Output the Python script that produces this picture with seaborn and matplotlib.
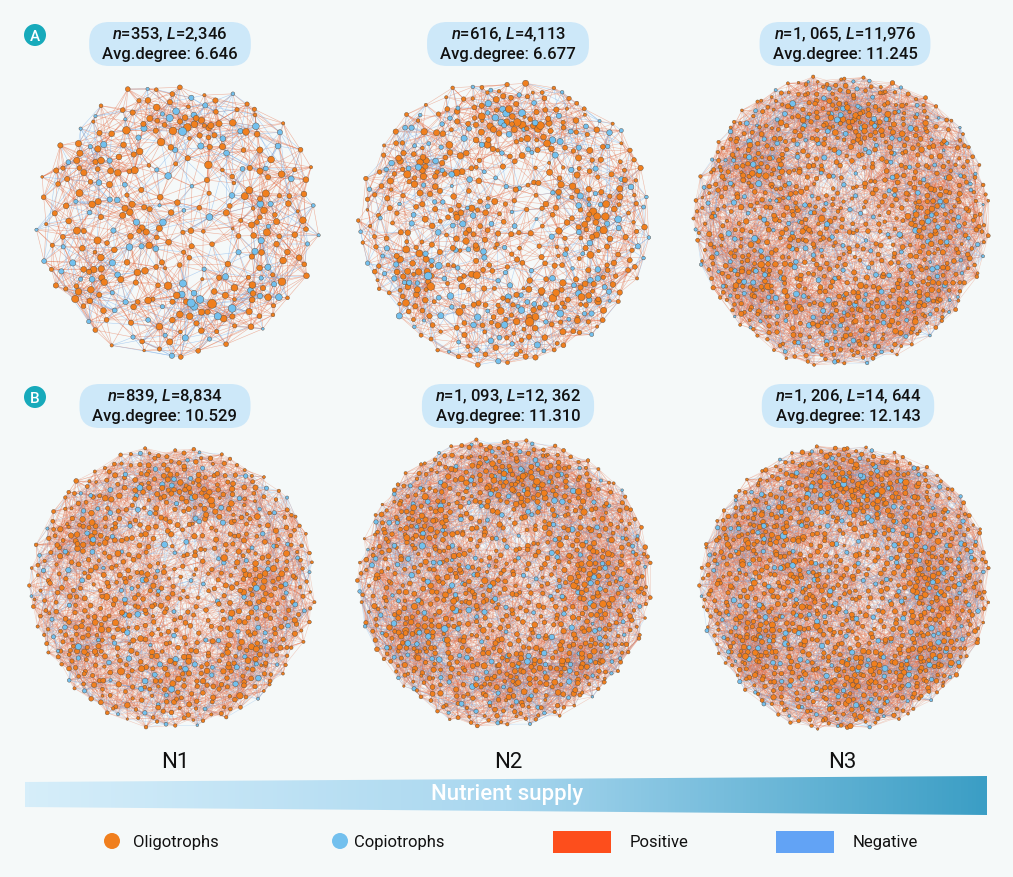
import numpy as np
import pandas as pd
import seaborn as sns
import matplotlib.pyplot as plt
from matplotlib.collections import LineCollection
from matplotlib.colors import LinearSegmentedColormap
from matplotlib.patches import FancyBboxPatch, Circle, Rectangle, Polygon

sns.set_theme(style='white')
plt.rcParams['font.family'] = ['Roboto', 'DejaVu Sans']
plt.rcParams['mathtext.fontset'] = 'custom'
plt.rcParams['mathtext.rm'] = 'Roboto:medium'
plt.rcParams['mathtext.it'] = 'Roboto:italic:medium'

# network statistics, row A then row B, each N1..N3
panel_rows = ['A', 'A', 'A', 'B', 'B', 'B']
treatments = ['N1', 'N2', 'N3']
node_counts = [353, 616, 1065, 839, 1093, 1206]
link_counts = [2346, 4113, 11976, 8834, 12362, 14644]
n_labels = ['353', '616', '1, 065', '839', '1, 093', '1, 206']
link_labels = ['2,346', '4,113', '11,976', '8,834', '12, 362', '14, 644']
avg_degree = ['6.646', '6.677', '11.245', '10.529', '11.310', '12.143']
# share of copiotroph nodes and of negative links, estimated by eye
copio_share = [0.26, 0.27, 0.2, 0.15, 0.17, 0.17]
neg_share = [0.55, 0.55, 0.5, 0.6, 0.6, 0.6]

# drawing layout (pixel space of the 1013x878 canvas)
centers = [(178, 220), (505, 222), (842, 220), (173, 587), (505, 582), (845, 587)]
radii = [150, 152, 153, 148, 152, 150]
node_sizes = [(4, 42), (4, 38), (3, 24), (3, 26), (3, 24), (3, 24)]
edge_alpha = [0.5, 0.45, 0.32, 0.32, 0.32, 0.3]
module_pull = [0.5, 0.4, 0.3, 0.3, 0.3, 0.3]

OLIGO = '#f07f1e'
COPIO = '#72c0ee'
POS = '#e46a42'
NEG = '#6aa6e8'
BG = '#f5f9f9'

modules = np.array([[-0.55, -0.35], [0.05, 0.6], [0.55, -0.05], [-0.2, 0.05],
                    [0.25, -0.6], [-0.6, 0.4], [0.55, 0.5], [-0.1, -0.7]])


def halton(n, base):
    out = np.zeros(n)
    for i in range(n):
        f, r, k = 1.0, 0.0, i + 1
        while k > 0:
            f /= base
            r += f * (k % base)
            k //= base
        out[i] = r
    return out


def layout(n, pull):
    # low-discrepancy points in a disc, pulled towards a few modules
    r = np.sqrt(halton(n, 2))
    t = 2 * np.pi * halton(n, 3)
    p = np.c_[r * np.cos(t), r * np.sin(t)]
    shift = np.zeros_like(p)
    for m in modules:
        d = m - p
        w = np.exp(-(d ** 2).sum(1) / (2 * 0.24 ** 2))
        shift += pull * w[:, None] * d
    return p + shift


def build_edges(p, L):
    n = len(p)
    d = ((p[:, None, :] - p[None, :, :]) ** 2).sum(-1)
    order = np.argsort(d, axis=1)
    m = int(np.ceil(1.4 * L / n)) + 2
    edges = set()
    while True:
        ranks = sorted(set(np.geomspace(1, 0.45 * n, m).astype(int)))
        for rk in ranks:
            for i in range(n):
                j = order[i, rk]
                edges.add((min(i, j), max(i, j)))
                if len(edges) >= L:
                    return np.array(sorted(edges))
        m += 4


fig = plt.figure(figsize=(10.13, 8.78), dpi=100)
fig.patch.set_facecolor(BG)
ax = fig.add_axes([0, 0, 1, 1])
ax.set_facecolor(BG)

for idx in range(6):
    n, L = node_counts[idx], link_counts[idx]
    cx, cy = centers[idx]
    R = radii[idx]
    p = layout(n, module_pull[idx])
    e = build_edges(p, L)
    copio = halton(n, 5) < copio_share[idx]
    deg = np.bincount(e.ravel(), minlength=n)
    xy = np.c_[cx + R * p[:, 0], cy + R * p[:, 1]]

    neg = (copio[e[:, 0]] != copio[e[:, 1]]) & (halton(len(e), 7) < neg_share[idx])
    segs = np.stack([xy[e[:, 0]], xy[e[:, 1]]], axis=1)
    ax.add_collection(LineCollection(segs[~neg], colors=POS, linewidths=0.4,
                                     alpha=edge_alpha[idx], zorder=1))
    ax.add_collection(LineCollection(segs[neg], colors=NEG, linewidths=0.4,
                                     alpha=edge_alpha[idx], zorder=1))

    nodes = pd.DataFrame({'x': xy[:, 0], 'y': xy[:, 1], 'degree': deg.astype(float) ** 2,
                          'group': np.where(copio, 'Copiotrophs', 'Oligotrophs')})
    sns.scatterplot(data=nodes, x='x', y='y', hue='group', size='degree',
                    sizes=node_sizes[idx],
                    palette={'Oligotrophs': OLIGO, 'Copiotrophs': COPIO},
                    edgecolor='#5a4a3a', linewidth=0.3, legend=False, ax=ax, zorder=3)

    # label pill
    ly = 35 if panel_rows[idx] == 'A' else 397
    lx = cx - 8 if idx in (0, 3) else cx + 3
    t1 = ax.text(lx, ly, f'$n$={n_labels[idx]}, $L$={link_labels[idx]}', ha='center', va='center',
                 fontsize=12, fontweight='medium', color='#111111', zorder=6)
    t2 = ax.text(lx, ly + 20, f'Avg.degree: {avg_degree[idx]}', ha='center', va='center',
                 fontsize=12, fontweight='medium', color='#111111', zorder=6)
    fig.canvas.draw()
    rend = fig.canvas.get_renderer()
    w = max(t1.get_window_extent(rend).width, t2.get_window_extent(rend).width)
    pw = w + 26
    ax.add_patch(FancyBboxPatch((lx - pw / 2, ly - 12), pw, 44,
                                boxstyle='round,pad=0,rounding_size=20',
                                fc='#cde8f9', ec='none', zorder=5))

# panel letters
for letter, y in [('A', 36), ('B', 398)]:
    ax.add_patch(Circle((35, y), 11, fc='#17aabb', ec='none', zorder=5))
    ax.text(35, y + 1, letter, ha='center', va='center', color='white', fontsize=11,
            fontweight='medium', zorder=6)

for i, t in enumerate(treatments):
    ax.text([175, 508, 842][i], 763, t, ha='center', va='center', fontsize=16, color='#111111')

# nutrient supply wedge
cmap = LinearSegmentedColormap.from_list('nut', ['#d6eefa', '#a9d7ef', '#3b9ec5'])
grad = np.linspace(0, 1, 256)[None, :]
im = ax.imshow(grad, extent=[25, 987, 816, 777], aspect='auto', cmap=cmap, zorder=2)
wedge = Polygon([(25, 783), (987, 777), (987, 816), (25, 808)], closed=True,
                fc='none', ec='none')
ax.add_patch(wedge)
im.set_clip_path(wedge)
ax.text(507, 795, 'Nutrient supply', ha='center', va='center', color='white', fontsize=16,
        fontweight='medium', zorder=3)

# legend
ax.add_patch(Circle((112, 842), 8, fc=OLIGO, ec='none'))
ax.text(133, 843, 'Oligotrophs', va='center', fontsize=12, color='#111111')
ax.add_patch(Circle((340, 842), 8, fc=COPIO, ec='none'))
ax.text(354, 843, 'Copiotrophs', va='center', fontsize=12, color='#111111')
ax.add_patch(Rectangle((553, 832), 58, 22, fc='#fd4e1c', ec='none'))
ax.text(630, 843, 'Positive', va='center', fontsize=12, color='#111111')
ax.add_patch(Rectangle((776, 832), 58, 22, fc='#62a3f5', ec='none'))
ax.text(853, 843, 'Negative', va='center', fontsize=12, color='#111111')

ax.set_xlim(0, 1013)
ax.set_ylim(878, 0)
ax.axis('off')
fig.savefig('out.png', dpi=100, facecolor=BG)
